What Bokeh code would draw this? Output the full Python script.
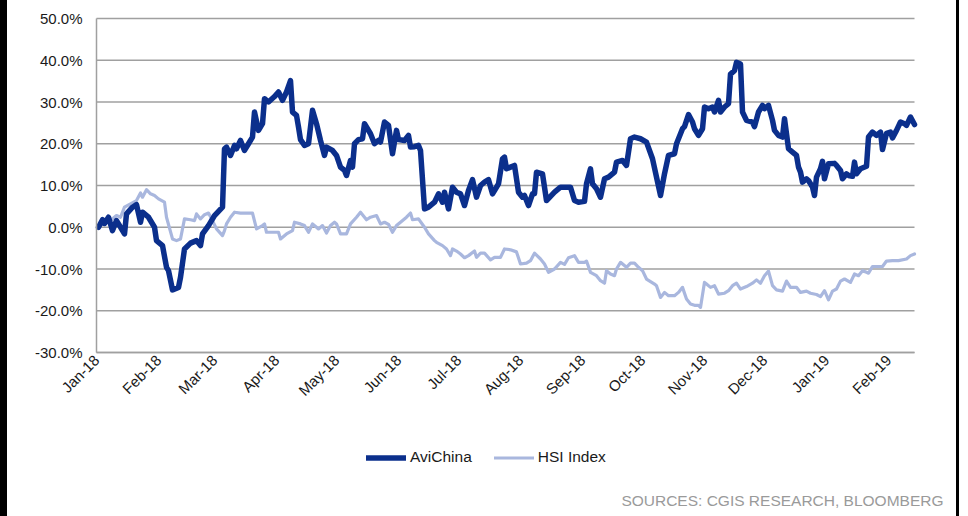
import pandas as pd
from math import pi

from bokeh.plotting import figure
from bokeh.models import (Range1d, MonthsTicker, FixedTicker, DatetimeTickFormatter,
                          PrintfTickFormatter, Legend, Label, Div, Spacer)
from bokeh.layouts import row
from bokeh.embed import file_html
from bokeh.resources import INLINE

# ---- data: cumulative return since start of 2018, in percent ----
avi_dates = [
    "2018-01-02", "2018-01-04", "2018-01-05", "2018-01-07", "2018-01-09", "2018-01-11", "2018-01-12",
    "2018-01-15", "2018-01-16", "2018-01-19", "2018-01-21", "2018-01-23", "2018-01-24", "2018-01-27",
    "2018-01-30", "2018-01-31", "2018-02-03", "2018-02-05", "2018-02-06", "2018-02-08", "2018-02-11",
    "2018-02-12", "2018-02-14", "2018-02-17", "2018-02-20", "2018-02-22", "2018-02-23", "2018-02-26",
    "2018-03-01", "2018-03-05", "2018-03-06", "2018-03-07", "2018-03-09", "2018-03-11", "2018-03-12",
    "2018-03-14", "2018-03-16", "2018-03-18", "2018-03-20", "2018-03-21", "2018-03-23", "2018-03-25",
    "2018-03-26", "2018-03-28", "2018-03-31", "2018-04-02", "2018-04-04", "2018-04-06", "2018-04-08",
    "2018-04-09", "2018-04-11", "2018-04-12", "2018-04-13", "2018-04-15", "2018-04-17", "2018-04-19",
    "2018-04-21", "2018-04-23", "2018-04-25", "2018-04-26", "2018-04-29", "2018-05-01", "2018-05-03",
    "2018-05-05", "2018-05-06", "2018-05-08", "2018-05-09", "2018-05-10", "2018-05-12", "2018-05-14",
    "2018-05-15", "2018-05-18", "2018-05-20", "2018-05-22", "2018-05-23", "2018-05-25", "2018-05-27",
    "2018-05-29", "2018-05-31", "2018-06-01", "2018-06-04", "2018-06-06", "2018-06-07", "2018-06-09",
    "2018-06-11", "2018-06-12", "2018-06-14", "2018-06-16", "2018-06-19", "2018-06-21", "2018-06-23",
    "2018-06-24", "2018-06-26", "2018-06-28", "2018-06-30", "2018-07-02", "2018-07-04", "2018-07-06",
    "2018-07-08", "2018-07-10", "2018-07-12", "2018-07-14", "2018-07-16", "2018-07-18", "2018-07-19",
    "2018-07-21", "2018-07-23", "2018-07-24", "2018-07-25", "2018-07-27", "2018-07-29", "2018-07-31",
    "2018-08-02", "2018-08-03", "2018-08-05", "2018-08-07", "2018-08-08", "2018-08-09", "2018-08-12",
    "2018-08-14", "2018-08-16", "2018-08-18", "2018-08-21", "2018-08-24", "2018-08-26", "2018-08-28",
    "2018-08-30", "2018-09-02", "2018-09-03", "2018-09-05", "2018-09-06", "2018-09-08", "2018-09-10",
    "2018-09-12", "2018-09-14", "2018-09-17", "2018-09-18", "2018-09-21", "2018-09-23", "2018-09-25",
    "2018-09-27", "2018-09-30", "2018-10-03", "2018-10-06", "2018-10-08", "2018-10-10", "2018-10-12",
    "2018-10-14", "2018-10-17", "2018-10-18", "2018-10-21", "2018-10-22", "2018-10-24", "2018-10-26",
    "2018-10-27", "2018-10-29", "2018-10-31", "2018-11-01", "2018-11-03", "2018-11-05", "2018-11-06",
    "2018-11-08", "2018-11-09", "2018-11-11", "2018-11-13", "2018-11-14", "2018-11-16", "2018-11-17",
    "2018-11-19", "2018-11-20", "2018-11-22", "2018-11-25", "2018-11-26", "2018-11-28", "2018-11-30",
    "2018-12-01", "2018-12-03", "2018-12-05", "2018-12-06", "2018-12-08", "2018-12-10", "2018-12-11",
    "2018-12-13", "2018-12-15", "2018-12-17", "2018-12-18", "2018-12-19", "2018-12-20", "2018-12-22",
    "2018-12-23", "2018-12-25", "2018-12-26", "2018-12-27", "2018-12-29", "2018-12-30", "2018-12-31",
    "2019-01-02", "2019-01-05", "2019-01-06", "2019-01-08", "2019-01-09", "2019-01-11", "2019-01-12",
    "2019-01-14", "2019-01-15", "2019-01-16", "2019-01-18", "2019-01-21", "2019-01-22", "2019-01-24",
    "2019-01-26", "2019-01-28", "2019-01-29", "2019-01-31", "2019-02-02", "2019-02-03", "2019-02-05",
    "2019-02-07", "2019-02-09", "2019-02-10", "2019-02-12", "2019-02-14",
]
avi_values = [
    0.0, 1.8, 0.9, 2.4, -0.8, 1.6, 0.8,
    -1.6, 3.2, 4.8, 5.4, 1.2, 3.6, 2.4,
    0.0, -3.2, -4.4, -9.6, -10.4, -15.0, -14.4,
    -12.0, -5.2, -3.8, -3.2, -4.4, -1.6, 0.4,
    2.8, 4.8, 18.8, 19.2, 17.2, 19.6, 18.8,
    20.8, 18.4, 20.0, 21.6, 27.6, 23.2, 24.8,
    30.8, 30.0, 31.3, 32.4, 30.4, 32.4, 35.1,
    27.6, 26.8, 24.0, 21.0, 19.6, 20.0, 28.0,
    24.8, 20.8, 17.2, 19.2, 18.4, 17.2, 14.4,
    13.6, 12.4, 16.0, 14.4, 20.0, 21.0, 21.2,
    24.8, 22.4, 20.0, 20.8, 20.4, 25.2, 24.4,
    17.6, 23.2, 21.0, 20.8, 22.0, 19.2, 19.3,
    19.6, 18.4, 4.4, 4.8, 6.0, 8.0, 6.0,
    8.4, 4.4, 9.6, 8.4, 8.0, 5.2, 8.8,
    11.4, 7.2, 10.0, 10.8, 11.4, 8.0, 8.8,
    10.4, 16.4, 16.8, 14.0, 14.4, 14.8, 8.4,
    7.2, 7.6, 5.2, 8.0, 8.0, 13.2, 12.8,
    6.4, 7.4, 8.4, 9.6, 9.6, 9.6, 6.4,
    6.0, 6.2, 10.4, 14.0, 10.4, 9.2, 7.2,
    11.6, 12.0, 13.2, 15.6, 16.0, 14.8, 21.2,
    21.6, 21.2, 20.4, 16.4, 12.0, 7.6, 12.8,
    17.2, 17.6, 20.0, 23.6, 24.1, 27.0, 25.2,
    23.6, 22.0, 23.6, 28.8, 28.4, 28.8, 27.6,
    30.4, 27.6, 28.8, 29.6, 36.7, 37.5, 39.5,
    39.1, 27.6, 25.6, 25.2, 24.1, 27.6, 29.2,
    28.4, 29.2, 25.6, 23.2, 22.0, 21.6, 26.0,
    18.8, 18.0, 17.2, 14.4, 13.2, 10.8, 11.6,
    11.2, 9.6, 7.6, 12.0, 14.0, 15.8, 11.6,
    15.2, 15.3, 14.8, 13.6, 11.6, 12.8, 12.4,
    12.2, 15.6, 12.8, 14.0, 14.6, 21.6, 22.8,
    22.0, 22.8, 18.6, 22.5, 22.8, 21.4, 23.2,
    25.2, 24.8, 24.4, 26.4, 24.6,
]

hsi_dates = [
    "2018-01-02", "2018-01-05", "2018-01-08", "2018-01-11", "2018-01-13", "2018-01-15", "2018-01-18",
    "2018-01-21", "2018-01-23", "2018-01-24", "2018-01-26", "2018-01-28", "2018-01-30", "2018-02-01",
    "2018-02-04", "2018-02-05", "2018-02-08", "2018-02-10", "2018-02-12", "2018-02-14", "2018-02-17",
    "2018-02-19", "2018-02-20", "2018-02-22", "2018-02-24", "2018-02-26", "2018-02-28", "2018-03-02",
    "2018-03-05", "2018-03-06", "2018-03-07", "2018-03-09", "2018-03-11", "2018-03-14", "2018-03-17",
    "2018-03-20", "2018-03-22", "2018-03-25", "2018-03-26", "2018-03-27", "2018-03-31", "2018-04-02",
    "2018-04-03", "2018-04-06", "2018-04-09", "2018-04-10", "2018-04-13", "2018-04-15", "2018-04-17",
    "2018-04-19", "2018-04-21", "2018-04-22", "2018-04-24", "2018-04-26", "2018-04-28", "2018-04-30",
    "2018-05-01", "2018-05-03", "2018-05-06", "2018-05-08", "2018-05-11", "2018-05-13", "2018-05-16",
    "2018-05-18", "2018-05-21", "2018-05-23", "2018-05-25", "2018-05-27", "2018-05-29", "2018-05-31",
    "2018-06-02", "2018-06-05", "2018-06-07", "2018-06-08", "2018-06-11", "2018-06-14", "2018-06-16",
    "2018-06-19", "2018-06-20", "2018-06-23", "2018-06-25", "2018-06-27", "2018-06-28", "2018-06-30",
    "2018-07-02", "2018-07-04", "2018-07-06", "2018-07-09", "2018-07-10", "2018-07-12", "2018-07-14",
    "2018-07-17", "2018-07-19", "2018-07-22", "2018-07-24", "2018-07-27", "2018-07-30", "2018-08-01",
    "2018-08-04", "2018-08-06", "2018-08-08", "2018-08-11", "2018-08-13", "2018-08-15", "2018-08-18",
    "2018-08-21", "2018-08-23", "2018-08-25", "2018-08-28", "2018-08-30", "2018-09-02", "2018-09-03",
    "2018-09-05", "2018-09-08", "2018-09-10", "2018-09-12", "2018-09-13", "2018-09-15", "2018-09-17",
    "2018-09-18", "2018-09-20", "2018-09-23", "2018-09-25", "2018-09-27", "2018-09-29", "2018-10-01",
    "2018-10-03", "2018-10-07", "2018-10-08", "2018-10-10", "2018-10-12", "2018-10-14", "2018-10-17",
    "2018-10-19", "2018-10-21", "2018-10-23", "2018-10-25", "2018-10-27", "2018-10-29", "2018-10-30",
    "2018-11-01", "2018-11-02", "2018-11-04", "2018-11-06", "2018-11-08", "2018-11-11", "2018-11-13",
    "2018-11-15", "2018-11-17", "2018-11-19", "2018-11-22", "2018-11-25", "2018-11-27", "2018-11-29",
    "2018-12-01", "2018-12-03", "2018-12-05", "2018-12-07", "2018-12-10", "2018-12-12", "2018-12-14",
    "2018-12-17", "2018-12-19", "2018-12-22", "2018-12-24", "2018-12-27", "2018-12-29", "2018-12-31",
    "2019-01-02", "2019-01-04", "2019-01-06", "2019-01-08", "2019-01-10", "2019-01-13", "2019-01-15",
    "2019-01-17", "2019-01-19", "2019-01-21", "2019-01-22", "2019-01-24", "2019-01-26", "2019-01-29",
    "2019-01-31", "2019-02-03", "2019-02-06", "2019-02-10", "2019-02-12", "2019-02-14",
]
hsi_values = [
    0.0, 1.2, 1.6, 2.8, 2.4, 4.8, 5.6,
    6.4, 8.2, 7.2, 9.0, 8.0, 7.6, 6.8,
    6.0, 2.4, -2.8, -3.2, -2.8, 2.0, 1.8,
    1.6, 3.2, 2.0, 3.0, 3.4, 1.6, -0.4,
    -2.0, -0.8, 0.8, 2.4, 3.6, 3.4, 3.4,
    3.4, -0.4, 0.4, 0.8, -1.2, -1.2, -1.2,
    -2.8, -1.6, -0.8, 1.2, 0.8, 0.4, -1.2,
    0.8, 0.0, -0.4, 0.4, -1.4, 0.4, 1.2,
    0.8, -1.6, -1.6, 0.8, 2.4, 3.6, 1.8,
    2.4, 2.8, 0.8, 1.2, 0.7, -1.2, 0.4,
    1.2, 2.4, 3.4, 1.8, 2.0, 0.0, -1.6,
    -3.2, -3.6, -4.4, -5.2, -6.8, -5.2, -5.7,
    -6.4, -7.3, -6.8, -5.7, -7.2, -6.2, -6.2,
    -7.8, -7.2, -7.2, -5.2, -5.4, -5.9, -8.8,
    -8.6, -8.0, -6.2, -7.6, -8.8, -10.8, -10.0,
    -8.4, -8.9, -7.3, -6.8, -8.4, -8.4, -8.1,
    -10.8, -11.6, -12.8, -13.4, -10.4, -11.2, -11.6,
    -10.0, -8.4, -9.6, -8.6, -8.6, -9.6, -10.4,
    -12.4, -13.6, -14.0, -16.8, -15.6, -16.4, -16.4,
    -15.6, -14.4, -17.2, -18.4, -18.7, -18.7, -19.2,
    -13.2, -13.6, -14.4, -14.0, -16.0, -15.8, -15.2,
    -14.0, -13.4, -14.8, -14.2, -13.4, -12.6, -13.4,
    -11.6, -10.5, -14.0, -15.0, -15.3, -12.9, -14.4,
    -14.4, -15.6, -15.3, -15.8, -16.1, -16.6, -15.2,
    -17.4, -15.3, -14.8, -12.9, -12.4, -13.2, -11.2,
    -11.6, -10.4, -10.8, -11.0, -9.4, -9.4, -9.4,
    -8.1, -8.0, -8.0, -7.6, -6.8, -6.4,
]

series_names = ["AviChina", "HSI Index"]
y_ticks = [-30, -20, -10, 0, 10, 20, 30, 40, 50]
x_start, x_end = "2018-01-01", "2019-02-14"
source_note = "SOURCES: CGIS RESEARCH, BLOOMBERG"

# ---- styling ----
FONT = "Liberation Sans"
DARK_BLUE = "#0B2F8C"
LIGHT_BLUE = "#A9B7DE"
GRID = "#A0A0A0"

# ---- canvas geometry ----
# The frame fills the whole canvas so that every label (dates, values, legend,
# source note) is drawn inside it; axes are pinned with fixed_location/bounds.
W, H = 949, 516
PLOT_LEFT, PLOT_TOP, PLOT_BOTTOM = 89, 18, 352     # pixel edges of the value area
PX_PER_DAY = 2.0
PX_PER_UNIT = (PLOT_BOTTOM - PLOT_TOP) / (y_ticks[-1] - y_ticks[0])

t0, t1 = pd.Timestamp(x_start), pd.Timestamp(x_end)
t0_ms = t0.value / 1e6                              # epoch milliseconds, as Bokeh stores dates
x_lo = t0 - pd.Timedelta(days=PLOT_LEFT / PX_PER_DAY)
x_hi = t0 + pd.Timedelta(days=(W - PLOT_LEFT) / PX_PER_DAY)
y_hi = y_ticks[-1] + PLOT_TOP / PX_PER_UNIT
y_lo = y_ticks[-1] - (H - PLOT_TOP) / PX_PER_UNIT

p = figure(
    width=W, height=H,
    x_axis_type="datetime",
    x_range=Range1d(x_lo, x_hi),
    y_range=Range1d(y_lo, y_hi),
    min_border_left=0, min_border_right=0, min_border_top=0, min_border_bottom=0,
    output_backend="svg", toolbar_location=None, margin=0,
)
p.outline_line_color = None
p.background_fill_color = "white"
p.border_fill_color = "white"
p.xgrid.visible = False
p.ygrid.visible = False

# horizontal value gridlines, spanning the date range only
p.segment(x0=[t0] * len(y_ticks), x1=[t1] * len(y_ticks), y0=y_ticks, y1=y_ticks,
          line_color=GRID, line_width=1.5)

hsi = p.line(pd.to_datetime(hsi_dates), hsi_values, line_color=LIGHT_BLUE, line_width=3.2,
             line_join="round", line_cap="round")
avi = p.line(pd.to_datetime(avi_dates), avi_values, line_color=DARK_BLUE, line_width=5.5,
             line_join="round", line_cap="round")

# axes
p.xaxis.fixed_location = y_ticks[0]
p.xaxis.bounds = (t0, t1)
p.xaxis.ticker = MonthsTicker(months=list(range(12)))
p.xaxis.formatter = DatetimeTickFormatter(months="%b-%y", days="%b-%y")
p.xaxis.major_label_orientation = pi / 4
p.yaxis.fixed_location = t0_ms
p.yaxis.bounds = (y_ticks[0], y_ticks[-1])
p.yaxis.ticker = FixedTicker(ticks=y_ticks)
p.yaxis.formatter = PrintfTickFormatter(format="%.1f%%")
for ax in (p.xaxis, p.yaxis):
    ax.axis_line_color = GRID
    ax.axis_line_width = 1.5
    ax.major_tick_line_color = None
    ax.minor_tick_line_color = None
    ax.major_tick_in = 0
    ax.major_tick_out = 0
    ax.minor_tick_out = 0
    ax.major_label_text_font = FONT
    ax.major_label_text_font_size = "15px"
    ax.major_label_text_color = "#1a1a1a"
p.xaxis.major_label_standoff = 5
p.yaxis.major_label_standoff = 14

legend = Legend(
    items=[(series_names[0], [avi]), (series_names[1], [hsi])],
    orientation="horizontal", location=(359, 50),
    label_text_font=FONT, label_text_font_size="15.5px", label_text_color="#1a1a1a",
    glyph_width=40, glyph_height=15, label_height=15, label_standoff=4, spacing=22,
    padding=0, margin=0, border_line_color=None, background_fill_alpha=0,
)
p.add_layout(legend)

p.add_layout(Label(
    x=936, y=16, x_units="screen", y_units="screen", text=source_note,
    text_align="right", text_baseline="middle",
    text_font=FONT, text_font_size="15.5px", text_color="#9A9A9A",
))

left_bar = Div(width=7, height=H, margin=0, styles={"background-color": "black"})
right_bar = Div(width=3, height=H, margin=0, styles={"background-color": "black"})
page = row(left_bar, p, right_bar, Spacer(width=9, height=H, margin=0), spacing=0)

open("out.html", "w").write(file_html(page, INLINE))
